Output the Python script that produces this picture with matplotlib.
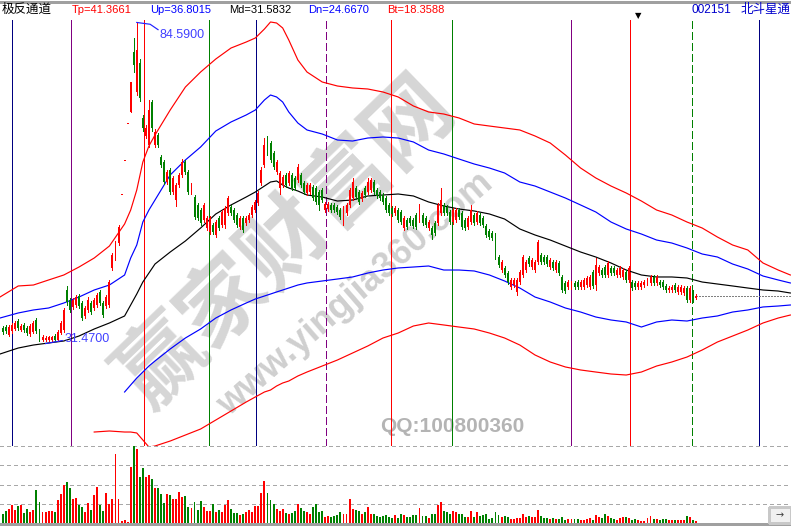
import numpy as np
import matplotlib.pyplot as plt
from matplotlib.patches import Rectangle
from matplotlib.lines import Line2D

plt.rcParams['font.family'] = ['Liberation Sans', 'Noto Sans CJK SC', 'DejaVu Sans']
plt.rcParams['lines.antialiased'] = False
plt.rcParams['patch.antialiased'] = False

# ---- 日K线数据----
open_p = [33.7, 33.8, 32.5, 33.2, 33.5, 34.8, 33.3, 34.2, 33.7, 32.7,
          33.0, 35.0, 33.2, 31.6, 31.6, 31.6, 31.6, 32.3, 31.7, 32.8,
          33.3, 40.0, 38.3, 37.2, 37.5, 39.0, 37.8, 35.7, 36.7, 37.8,
          37.0, 37.5, 39.7, 37.8, 37.3, 37.5, 43.7, 45.3, 47.8, 55.8,
          61.5, 67.7, 69.7, 79.7, 73.0, 77.8, 68.7, 65.7, 64.2, 71.3,
          64.2, 65.8, 62.2, 61.3, 58.0, 60.0, 56.3, 55.0, 57.5, 59.2,
          61.3, 59.7, 56.3, 55.5, 54.2, 53.3, 51.7, 50.3, 49.7, 50.8,
          49.2, 52.0, 50.8, 50.8, 52.8, 53.8, 53.3, 52.5, 50.5, 52.0,
          51.2, 51.7, 52.5, 53.3, 54.5, 57.8, 60.8, 65.3, 64.5, 62.8,
          59.7, 57.0, 57.5, 59.2, 57.8, 59.2, 58.7, 58.3, 59.2, 57.8,
          56.2, 56.3, 57.2, 57.0, 56.3, 56.7, 53.3, 53.5, 54.2, 54.2,
          53.8, 53.3, 51.7, 52.8, 54.2, 55.3, 57.0, 56.3, 55.2, 57.0,
          56.3, 56.7, 58.0, 56.7, 56.3, 55.8, 55.3, 54.2, 53.7, 52.8,
          53.3, 53.0, 50.3, 51.7, 52.0, 51.7, 52.5, 51.7, 52.5, 52.0,
          50.3, 50.3, 51.2, 51.2, 52.8, 54.2, 53.8, 53.0, 51.3, 51.7,
          53.3, 52.8, 51.7, 50.5, 51.3, 52.5, 51.3, 52.5, 52.0, 50.7,
          49.8, 49.5, 49.2, 45.5, 43.3, 43.7, 42.8, 40.5, 40.8, 39.7,
          41.3, 42.5, 43.3, 45.3, 43.8, 43.3, 44.7, 45.8, 45.5, 45.5,
          43.8, 44.7, 43.3, 44.5, 42.2, 41.2, 40.5, 40.5, 41.2, 41.3,
          40.5, 40.5, 40.8, 40.5, 43.0, 40.8, 42.8, 43.3, 43.8, 42.5,
          43.7, 43.7, 42.5, 42.5, 42.2, 43.0, 41.7, 41.3, 41.2, 40.5,
          40.5, 40.8, 41.2, 41.2, 42.2, 41.2, 41.3, 41.3, 40.7, 40.0,
          40.0, 40.8, 39.7, 39.7, 39.5, 40.3, 38.3, 39.7, 38.7]
close_p = [33.0, 33.2, 33.8, 34.2, 34.5, 33.7, 34.0, 33.3, 32.8, 34.0,
           34.5, 33.2, 31.7, 32.2, 32.0, 32.2, 32.1, 31.6, 33.0, 34.5,
           36.7, 38.0, 36.7, 38.3, 38.8, 37.3, 35.3, 37.0, 38.3, 36.3,
           38.3, 39.2, 37.8, 35.8, 38.8, 41.3, 45.8, 47.8, 50.5, 55.8,
           61.5, 67.7, 74.7, 77.5, 80.0, 72.0, 67.0, 67.0, 70.0, 67.0,
           66.3, 64.2, 60.8, 58.0, 59.7, 56.3, 58.7, 57.5, 59.2, 61.3,
           59.7, 56.3, 57.5, 52.2, 52.0, 51.2, 54.2, 52.0, 52.0, 49.7,
           51.3, 50.3, 53.0, 53.7, 55.3, 52.8, 51.7, 50.8, 52.0, 50.0,
           52.0, 52.5, 53.8, 54.7, 56.2, 60.0, 64.2, 62.8, 61.7, 60.5,
           61.3, 59.5, 58.8, 57.5, 59.5, 57.0, 57.0, 60.5, 57.5, 56.3,
           57.5, 57.5, 55.3, 54.7, 54.2, 55.0, 54.3, 54.3, 53.3, 53.3,
           53.0, 52.2, 53.7, 54.2, 56.7, 58.0, 55.5, 54.7, 56.2, 55.8,
           58.0, 58.3, 56.3, 55.7, 55.3, 54.7, 53.3, 52.8, 52.7, 53.7,
           51.7, 51.3, 52.0, 50.5, 51.2, 50.7, 50.5, 53.8, 51.2, 50.8,
           51.3, 49.2, 49.5, 54.2, 55.0, 52.8, 52.8, 51.3, 53.3, 53.3,
           52.2, 50.5, 50.3, 52.0, 53.3, 51.2, 52.8, 51.2, 50.8, 49.2,
           48.8, 48.7, 45.5, 44.2, 44.7, 42.5, 41.3, 41.7, 41.7, 41.7,
           43.0, 45.5, 44.7, 44.3, 45.0, 44.7, 48.0, 44.7, 44.7, 44.3,
           45.0, 43.7, 44.7, 42.8, 40.0, 39.8, 41.3, 41.2, 40.5, 40.5,
           41.3, 41.7, 42.0, 42.2, 40.7, 44.2, 43.8, 42.5, 42.5, 44.5,
           42.8, 42.8, 43.3, 43.7, 43.3, 41.7, 43.7, 40.3, 40.5, 41.2,
           41.2, 41.3, 41.7, 42.2, 41.2, 42.2, 40.8, 40.5, 40.0, 40.3,
           40.5, 40.0, 40.5, 40.5, 40.3, 38.3, 40.3, 38.3, 39.0]
high_p = [34.0, 34.1, 34.2, 34.5, 34.9, 35.1, 34.3, 34.5, 34.0, 34.3,
          34.8, 35.4, 33.5, 32.5, 32.3, 32.4, 32.4, 32.6, 33.3, 34.8,
          37.0, 40.7, 38.7, 38.7, 39.2, 39.3, 38.2, 37.3, 38.8, 38.2,
          38.7, 39.5, 40.0, 38.2, 39.2, 41.7, 46.2, 48.2, 50.8, 55.8,
          61.5, 67.7, 74.7, 82.0, 84.59, 78.5, 69.2, 67.5, 71.7, 71.7,
          66.8, 66.2, 62.5, 61.7, 60.0, 60.3, 59.0, 57.8, 59.5, 61.8,
          61.7, 60.0, 57.8, 55.8, 54.5, 53.7, 54.5, 52.3, 52.3, 51.2,
          51.7, 52.3, 53.3, 54.0, 55.7, 54.2, 53.7, 52.8, 52.3, 52.3,
          52.3, 52.8, 54.2, 55.0, 56.5, 60.5, 65.3, 65.7, 64.8, 63.2,
          61.7, 59.8, 59.2, 59.5, 59.8, 59.5, 59.0, 61.0, 59.5, 58.2,
          57.8, 57.8, 57.5, 57.3, 56.7, 57.0, 54.7, 54.7, 54.5, 54.5,
          54.2, 53.7, 54.0, 54.5, 57.0, 58.7, 57.3, 56.7, 56.5, 57.3,
          58.7, 58.7, 58.3, 57.0, 56.7, 56.2, 55.7, 54.5, 54.0, 54.0,
          53.7, 53.3, 52.3, 52.0, 52.3, 52.0, 52.8, 54.3, 52.8, 52.3,
          51.7, 50.7, 51.5, 54.5, 57.0, 54.5, 54.2, 53.3, 53.7, 53.7,
          53.7, 53.2, 52.0, 52.3, 54.2, 52.8, 53.2, 52.8, 52.3, 51.0,
          50.2, 49.8, 49.5, 45.8, 45.0, 44.0, 43.2, 42.0, 42.0, 42.0,
          43.3, 45.8, 45.0, 45.7, 45.3, 45.0, 48.3, 46.2, 45.8, 45.8,
          45.3, 45.0, 45.0, 44.8, 42.5, 41.5, 41.7, 41.5, 41.5, 41.7,
          41.7, 42.0, 42.3, 42.5, 43.3, 45.3, 44.2, 43.7, 44.2, 44.8,
          44.0, 44.0, 43.7, 44.0, 43.7, 43.3, 44.0, 41.7, 41.5, 41.5,
          41.5, 41.7, 42.0, 42.5, 42.5, 42.5, 41.7, 41.7, 41.0, 40.7,
          40.8, 41.2, 40.8, 40.8, 40.7, 40.7, 40.7, 40.0, 39.3]
low_p = [32.7, 32.9, 32.3, 32.9, 33.3, 33.4, 33.1, 33.0, 32.5, 32.4,
         32.8, 32.9, 31.5, 31.5, 31.47, 31.5, 31.5, 31.5, 31.5, 32.6,
         33.0, 37.5, 36.3, 36.8, 37.2, 37.0, 35.0, 35.3, 36.3, 36.0,
         36.7, 37.2, 37.5, 35.5, 37.0, 37.2, 43.3, 45.0, 47.5, 55.8,
         61.5, 67.7, 69.7, 76.3, 72.5, 71.5, 66.5, 65.3, 63.8, 66.5,
         63.8, 63.8, 60.5, 57.7, 57.7, 56.0, 56.0, 54.0, 57.2, 58.8,
         59.3, 56.0, 56.0, 51.8, 51.7, 50.8, 51.3, 50.0, 49.3, 49.3,
         48.8, 50.0, 50.5, 50.3, 52.5, 52.5, 51.3, 50.5, 50.2, 49.7,
         50.8, 51.3, 52.2, 53.0, 54.2, 57.5, 60.5, 62.5, 61.3, 60.2,
         59.3, 56.0, 57.2, 57.2, 57.5, 56.7, 56.7, 58.0, 57.2, 56.0,
         55.8, 56.0, 55.0, 54.3, 53.3, 54.7, 53.0, 53.2, 53.0, 53.0,
         52.7, 51.8, 50.8, 52.5, 53.8, 55.0, 55.2, 54.3, 54.8, 55.5,
         56.0, 56.3, 56.0, 55.3, 55.0, 54.3, 53.0, 52.5, 52.3, 52.5,
         51.3, 51.0, 50.0, 50.2, 50.8, 50.3, 50.2, 51.3, 50.8, 50.5,
         50.0, 48.5, 49.2, 50.8, 52.5, 52.5, 52.5, 51.0, 51.0, 51.3,
         51.8, 50.2, 50.0, 50.2, 51.0, 50.8, 51.0, 50.8, 50.5, 48.8,
         48.5, 48.3, 45.2, 43.8, 43.0, 42.2, 41.0, 40.2, 40.5, 39.2,
         41.0, 42.2, 43.0, 44.0, 43.5, 43.0, 44.3, 44.3, 44.3, 44.0,
         43.5, 43.3, 43.0, 42.5, 39.7, 39.5, 40.2, 40.2, 40.2, 40.2,
         40.2, 40.2, 40.5, 40.2, 40.3, 40.0, 42.5, 42.2, 42.2, 42.2,
         42.5, 42.5, 42.2, 42.2, 41.8, 41.3, 41.3, 40.0, 40.2, 40.2,
         40.2, 40.5, 40.8, 40.8, 40.8, 40.8, 40.5, 40.2, 39.7, 39.7,
         39.7, 39.7, 39.3, 39.3, 39.2, 38.0, 38.0, 38.0, 38.5]
volume = [9.3, 11.7, 13.7, 17.7, 12.7, 16.7, 17.7, 10.0, 13.7, 11.0,
          12.7, 32.7, 20.7, 11.0, 11.0, 11.7, 11.7, 11.0, 22.7, 28.7,
          37.7, 40.7, 34.7, 23.7, 24.7, 17.7, 15.7, 11.0, 19.7, 12.7,
          27.7, 35.7, 17.7, 11.7, 29.7, 18.7, 23.7, 68.7, 23.7, 2.0,
          2.7, 1.0, 55.7, 76.7, 73.7, 45.7, 54.7, 45.7, 47.7, 43.7,
          34.7, 34.7, 28.7, 19.7, 28.7, 27.7, 23.7, 23.7, 30.7, 25.7,
          26.7, 15.7, 14.7, 20.7, 12.7, 21.7, 15.7, 11.7, 11.7, 18.7,
          10.7, 12.7, 10.7, 17.7, 22.7, 13.7, 9.7, 9.7, 7.7, 8.7,
          10.7, 12.7, 10.7, 16.7, 16.7, 29.7, 41.7, 29.7, 22.7, 18.7,
          13.7, 11.7, 13.7, 9.7, 8.7, 9.7, 11.7, 18.7, 14.7, 11.7,
          10.7, 8.7, 15.7, 18.7, 10.7, 11.7, 5.7, 6.7, 5.7, 6.7,
          7.7, 10.7, 8.7, 8.7, 23.7, 13.7, 12.7, 11.7, 8.7, 10.7,
          15.7, 8.7, 8.7, 6.7, 5.7, 6.7, 7.7, 5.7, 4.7, 7.7,
          4.7, 8.7, 7.7, 5.7, 5.7, 7.7, 7.7, 14.7, 6.7, 6.7,
          4.7, 8.7, 8.7, 17.7, 20.7, 11.7, 10.7, 8.7, 11.7, 10.7,
          8.7, 8.7, 5.7, 5.7, 11.7, 5.7, 10.7, 6.7, 7.7, 8.7,
          3.7, 4.7, 10.7, 7.7, 5.7, 6.7, 5.7, 3.7, 3.7, 4.7,
          4.7, 8.7, 5.7, 6.7, 5.7, 5.7, 12.7, 6.7, 4.7, 4.7,
          3.7, 4.7, 3.7, 3.7, 5.7, 2.7, 3.7, 3.7, 3.7, 3.7,
          2.7, 2.7, 3.7, 4.7, 2.7, 7.7, 5.7, 4.7, 8.7, 6.7,
          4.7, 3.7, 2.7, 4.7, 5.7, 5.7, 4.7, 2.7, 3.7, 2.7,
          1.7, 1.7, 4.7, 6.7, 3.7, 3.7, 2.7, 3.7, 3.7, 2.7,
          2.7, 2.7, 2.7, 2.7, 2.7, 6.7, 5.7, 2.7, 1.7]

# ---- 极反通道五条线（按K线序号取样）----
band_idx = [-1, 5, 10, 15, 20, 25, 30, 35, 40, 42, 44, 46, 48, 50, 55, 60,
            65, 70, 75, 80, 83, 86, 88, 90, 92, 94, 97, 100, 105, 110, 115,
            120, 125, 130, 135, 140, 145, 150, 155, 160, 165, 170, 175, 180,
            185, 190, 195, 200, 205, 210, 215, 220, 225, 230, 235, 240, 245,
            250, 255, 259]
tp_line = [38.83, 40.67, 40.83, 41.67, 42.5, 43.83, 45.33, 47.33, 51.0, 53.33,
           56.67, 61.33, 64.0, 65.83, 70.0, 73.83, 76.33, 78.5, 80.33, 81.33,
           82.0, 83.5, 84.67, 84.5, 83.67, 81.67, 78.33, 76.33, 74.67, 74.0,
           73.67, 73.5, 73.0, 72.17, 70.67, 69.67, 69.33, 68.67, 67.67, 67.33,
           67.0, 66.67, 65.67, 64.5, 62.5, 60.33, 58.67, 57.33, 56.17, 54.83,
           53.33, 52.5, 51.33, 50.33, 48.83, 47.5, 46.67, 44.5, 43.33, 42.5]
up_line = [35.33, 36.17, 36.67, 37.0, 37.83, 38.83, 40.0, 40.83, 42.5, 45.33,
           47.5, 51.33, 53.33, 55.0, 59.17, 61.67, 63.83, 66.5, 68.0, 69.17,
           70.0, 71.67, 72.5, 72.17, 71.33, 69.67, 67.83, 66.67, 66.0, 65.0,
           64.83, 65.33, 65.5, 65.33, 64.67, 63.33, 62.67, 61.83, 61.0, 60.33,
           59.5, 58.0, 57.33, 56.33, 55.33, 54.17, 53.0, 51.33, 50.17, 49.33,
           48.33, 47.83, 47.0, 46.0, 45.5, 44.33, 43.5, 42.33, 41.67, 41.17]
md_line = [29.33, 30.33, 30.83, 31.17, 31.5, 32.33, 33.5, 34.5, 35.67, 37.5,
           39.33, 41.33, 42.83, 44.33, 46.33, 48.17, 50.33, 52.67, 54.17, 55.5,
           56.33, 57.33, 58.0, 58.17, 57.5, 57.0, 56.5, 55.83, 55.5, 54.83,
           55.0, 55.67, 55.83, 56.0, 55.67, 54.67, 54.0, 53.5, 53.17, 52.67,
           51.83, 50.17, 49.17, 48.33, 47.33, 46.33, 45.5, 44.5, 43.33, 42.5,
           42.17, 42.17, 42.0, 41.33, 41.0, 40.67, 40.33, 40.0, 39.83, 39.5]
nan = float('nan')
dn_line = [nan] * 8 + [
    23.0, 24.17, 25.33, 26.33, 27.33, 28.17, 30.17, 32.0, 33.5, 35.33,
    36.67, 37.83, 38.5, 39.0, 39.33, 39.67, 40.0, 40.33, 40.83, 41.17,
    41.5, 41.83, 42.17, 42.83, 43.33, 43.67, 43.83, 44.0, 43.33, 43.33,
    43.17, 42.5, 41.5, 40.33, 38.83, 38.0, 37.0, 36.33, 35.5, 35.0,
    34.67, 33.83, 34.67, 35.0, 34.83, 35.33, 35.67, 36.33, 36.67, 37.17,
    37.33, 37.5]
bt_line = [nan] * 6 + [
    16.33, 16.5, 16.33, 16.33, 16.17, 15.0, 13.83, 14.0, 14.83, 15.83,
    16.83, 18.33, 19.83, 21.33, 22.17, 23.0, 23.33, 24.0, 24.5, 24.83,
    25.67, 26.33, 27.33, 28.33, 29.5, 30.67, 32.0, 32.83, 34.0, 34.5,
    34.17, 33.83, 33.5, 32.83, 32.0, 30.83, 29.17, 28.0, 27.17, 26.67,
    26.33, 26.0, 25.83, 26.33, 27.33, 28.0, 28.83, 30.0, 31.33, 32.33,
    33.33, 34.5, 35.33, 35.83]

# 周期竖线（K线序号, 颜色, 线型）
vline_pos = [3, 22.5, 46.4, 67.8, 83.1, 106.3, 127.5, 147.7, 186.8, 206.3, 226.5, 248.7]
vline_col = ['#000080', '#800080', '#ff0000', '#008000', '#000080', '#800080',
             '#ff0000', '#008000', '#800080', '#ff0000', '#008000', '#000080']
vline_dash = [False, False, False, False, False, True,
              False, False, False, False, True, False]

header = [('极反通道', '#000000'), ('Tp=41.3661', '#ff0000'), ('Up=36.8015', '#0000ff'),
          ('Md=31.5832', '#000000'), ('Dn=24.6670', '#0000ff'), ('Bt=18.3588', '#ff0000')]
header_x = [2, 72, 150, 229, 308, 387]

LW = 0.72   # 1 像素
BLW = 0.85  # 通道线（抗锯齿）

o = np.array(open_p)
c = np.array(close_p)
hi = np.array(high_p)
lo = np.array(low_p)
n = len(c)
idx = np.arange(n)
cols = np.where(c >= o, '#ff0000', '#008000')

W, H = 791, 526
fig = plt.figure(figsize=(W / 100, H / 100), dpi=100)
xl = (-3 / 3.04, (W - 3) / 3.04)

# 主图
ax = fig.add_axes([0, (H - 446) / H, 1, 426 / H])
ax.set_xlim(*xl)
ax.set_ylim(14.0, 85.0)
ax.axis('off')

for p, col, d in zip(vline_pos, vline_col, vline_dash):
    ax.axvline(p, color=col, lw=LW, ls=(0, (8, 4)) if d else '-', zorder=1)

for vals, col in [(tp_line, '#ff0000'), (up_line, '#0000ff'), (md_line, '#000000'),
                  (dn_line, '#0000ff'), (bt_line, '#ff0000')]:
    ax.plot(band_idx, vals, color=col, lw=BLW, antialiased=True, zorder=2)

ax.vlines(idx, lo, hi, colors=cols, lw=LW, zorder=3, antialiased=False)
ax.bar(idx, np.maximum(np.abs(c - o), 0.17), bottom=np.minimum(o, c),
       width=0.62, color=cols, lw=0, zorder=4)

ax.plot([n - 1, xl[1]], [c[-1], c[-1]], color='#808080', lw=LW, ls=(0, (2, 2)), zorder=2)

# 最高/最低价标注
ih = int(np.argmax(hi))
ax.plot([ih, ih + 4.4, ih + 7], [hi[ih], hi[ih] - 0.3, hi[ih] - 1.2], color='#2020ff',
        lw=BLW, antialiased=True, zorder=5)
ax.text(ih + 7.5, hi[ih] - 2.1, '%.4f' % hi[ih], color='#4040ff', fontsize=9, va='center', zorder=6)
il = int(np.argmin(lo))
ax.plot([il, il + 5.5], [lo[il] - 0.4, lo[il] + 0.1], color='#2020ff',
        lw=BLW, antialiased=True, zorder=5)
ax.text(il + 6.4, lo[il] + 0.35, '%.4f' % lo[il], color='#4040ff', fontsize=9, va='center', zorder=6)

# 水印
ax.text(287 / W, 1 - 242 / H, '赢家财富网', transform=fig.transFigure, rotation=44,
        fontsize=62, fontweight='bold', color='#d6d6d6', ha='center', va='center',
        family=['Noto Sans CJK SC'], zorder=0)
ax.text(356 / W, 1 - 294 / H, 'www.yingjia360.com', transform=fig.transFigure, rotation=41,
        fontsize=26, fontweight='bold', color='#cfcfcf', ha='center', va='center', zorder=0)
ax.text(452 / W, 1 - 427 / H, 'QQ:100800360', transform=fig.transFigure,
        fontsize=15, fontweight='bold', color='#b4b4b4', ha='center', va='center', zorder=0)

# 成交量
axv = fig.add_axes([0, 3 / H, 1, 77 / H])
axv.set_xlim(*xl)
axv.set_ylim(0, 77)
axv.axis('off')
for k in range(1, 5):
    axv.axhline(77 * k / 4, color='#a8a8a8', lw=LW, ls=(0, (4, 3)), zorder=1)
axv.bar(idx, volume, width=0.62, color=cols, lw=0, zorder=3)

# 标题栏
fig.add_artist(Line2D([0, 1], [1 - 2 / H] * 2, color='#a0a0a0', lw=1.0))
for (s, col), x in zip(header, header_x):
    fs = 9 if s == '极反通道' else 8.0
    fig.text(x / W, 1 - 10 / H, s, color=col, fontsize=fs, ha='left', va='center')
fig.text(692 / W, 1 - 10 / H, '002151', color='#0000cc', fontsize=8.6, ha='left', va='center')
fig.text(741 / W, 1 - 10 / H, '北斗星通', color='#0000cc', fontsize=9, ha='left', va='center')
fig.text(638 / W, 1 - 16 / H, '▼', color='black', fontsize=6, ha='center', va='center',
         family=['DejaVu Sans'])

fig.add_artist(Rectangle((0, 0), 1, 3 / H, transform=fig.transFigure,
                         facecolor='#a0a0a0', edgecolor='none'))
fig.add_artist(Rectangle((769 / W, 3 / H), 22 / W, 16 / H, transform=fig.transFigure,
                         facecolor='#f0f0f0', edgecolor='#c8c8c8', lw=1))
fig.text(780 / W, 11 / H, '→', fontsize=7, ha='center', va='center', color='#404040',
         family=['DejaVu Sans'])

fig.savefig('out.png', dpi=100, facecolor='white')
